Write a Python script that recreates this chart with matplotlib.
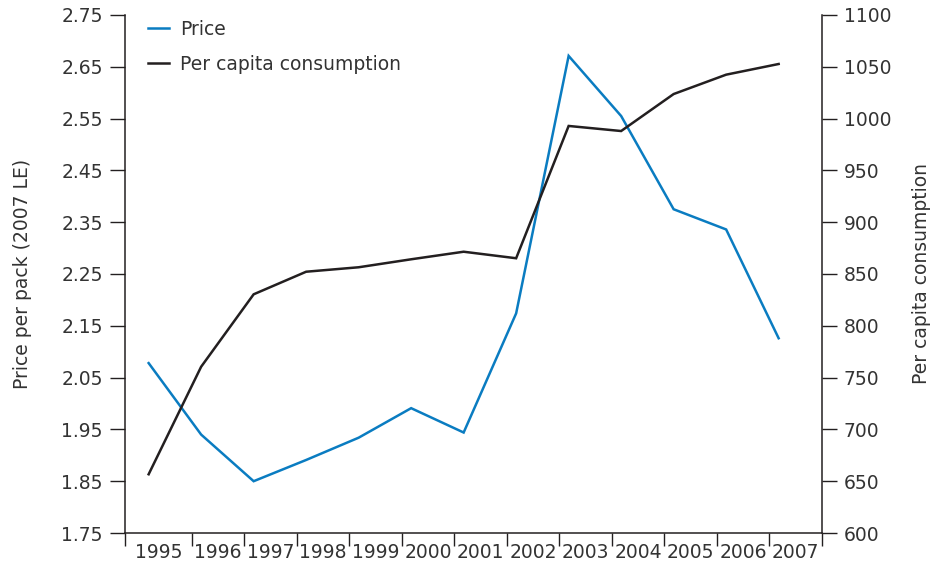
import matplotlib
matplotlib.use("Agg")
import matplotlib.pyplot as plt
import numpy as np

years = ["1995", "1996", "1997", "1998", "1999", "2000", "2001",
         "2002", "2003", "2004", "2005", "2006", "2007"]
price = [2.078, 1.940, 1.850, 1.891, 1.934, 1.991, 1.944,
         2.174, 2.671, 2.555, 2.375, 2.336, 2.126]
consumption = [656.7, 760.5, 830.4, 852.2, 856.5, 864.2, 871.5,
               865.2, 992.9, 988.0, 1023.7, 1042.4, 1052.7]
price_ticks = [1.75, 1.85, 1.95, 2.05, 2.15, 2.25, 2.35, 2.45, 2.55, 2.65, 2.75]
cons_ticks = [600, 650, 700, 750, 800, 850, 900, 950, 1000, 1050, 1100]

plt.rcParams['font.family'] = ['DejaVu Sans']
TXT = '#333333'
BLUE = '#0a7cc1'
BLACK = '#231f20'
FS = 13.5

fig = plt.figure(figsize=(9.33, 5.70), dpi=100)
ax = fig.add_axes([0.134, 0.0649, 0.7467, 0.9088])
ax2 = ax.twinx()

x = np.arange(len(years))
l1, = ax.plot(x, price, color=BLUE, lw=1.8, solid_joinstyle='miter')
l2, = ax2.plot(x, consumption, color=BLACK, lw=1.8, solid_joinstyle='miter')

left_edge = -0.45
bounds = [left_edge] + [i + 0.82 for i in range(len(years))]
ax.set_xlim(left_edge, bounds[-1])
ax.set_ylim(price_ticks[0], price_ticks[-1])
ax2.set_ylim(cons_ticks[0], cons_ticks[-1])

ax.set_xticks(bounds)
ax.set_xticklabels([])
mids = [(bounds[i] + bounds[i + 1]) / 2 for i in range(len(years))]
ax.set_xticks(mids, minor=True)
ax.set_xticklabels(years, minor=True)
ax.tick_params(axis='x', which='major', length=9, width=1, color=BLACK, direction='out')
ax.tick_params(axis='x', which='minor', length=0, pad=7, labelsize=FS, labelcolor=TXT)

ax.set_yticks(price_ticks)
ax.set_yticklabels([f"{v:.2f}" for v in price_ticks])
ax.tick_params(axis='y', length=11, width=1, color=BLACK, labelsize=FS, labelcolor=TXT, pad=5)
ax2.set_yticks(cons_ticks)
ax2.set_yticklabels([str(v) for v in cons_ticks])
ax2.tick_params(axis='y', length=11, width=1, color=BLACK, labelsize=FS, labelcolor=TXT, pad=5)

for a in (ax, ax2):
    a.spines['top'].set_visible(False)
    for s in a.spines.values():
        s.set_linewidth(1.1)
        s.set_color(BLACK)
ax.spines['right'].set_visible(False)
ax2.spines['left'].set_visible(False)
ax2.spines['bottom'].set_visible(False)

ax.set_ylabel("Price per pack (2007 LE)", fontsize=FS, color=TXT, labelpad=21)
ax2.set_ylabel("Per capita consumption", fontsize=FS, color=TXT, labelpad=15)

fig.legend([l1, l2], ["Price", "Per capita consumption"], loc='upper left',
           bbox_to_anchor=(148 / 933, 1 - 20 / 570), frameon=False, fontsize=FS,
           handlelength=1.1, handletextpad=0.6, labelspacing=0.85, borderpad=0,
           borderaxespad=0, labelcolor=TXT)

fig.savefig("out.png", dpi=100)
